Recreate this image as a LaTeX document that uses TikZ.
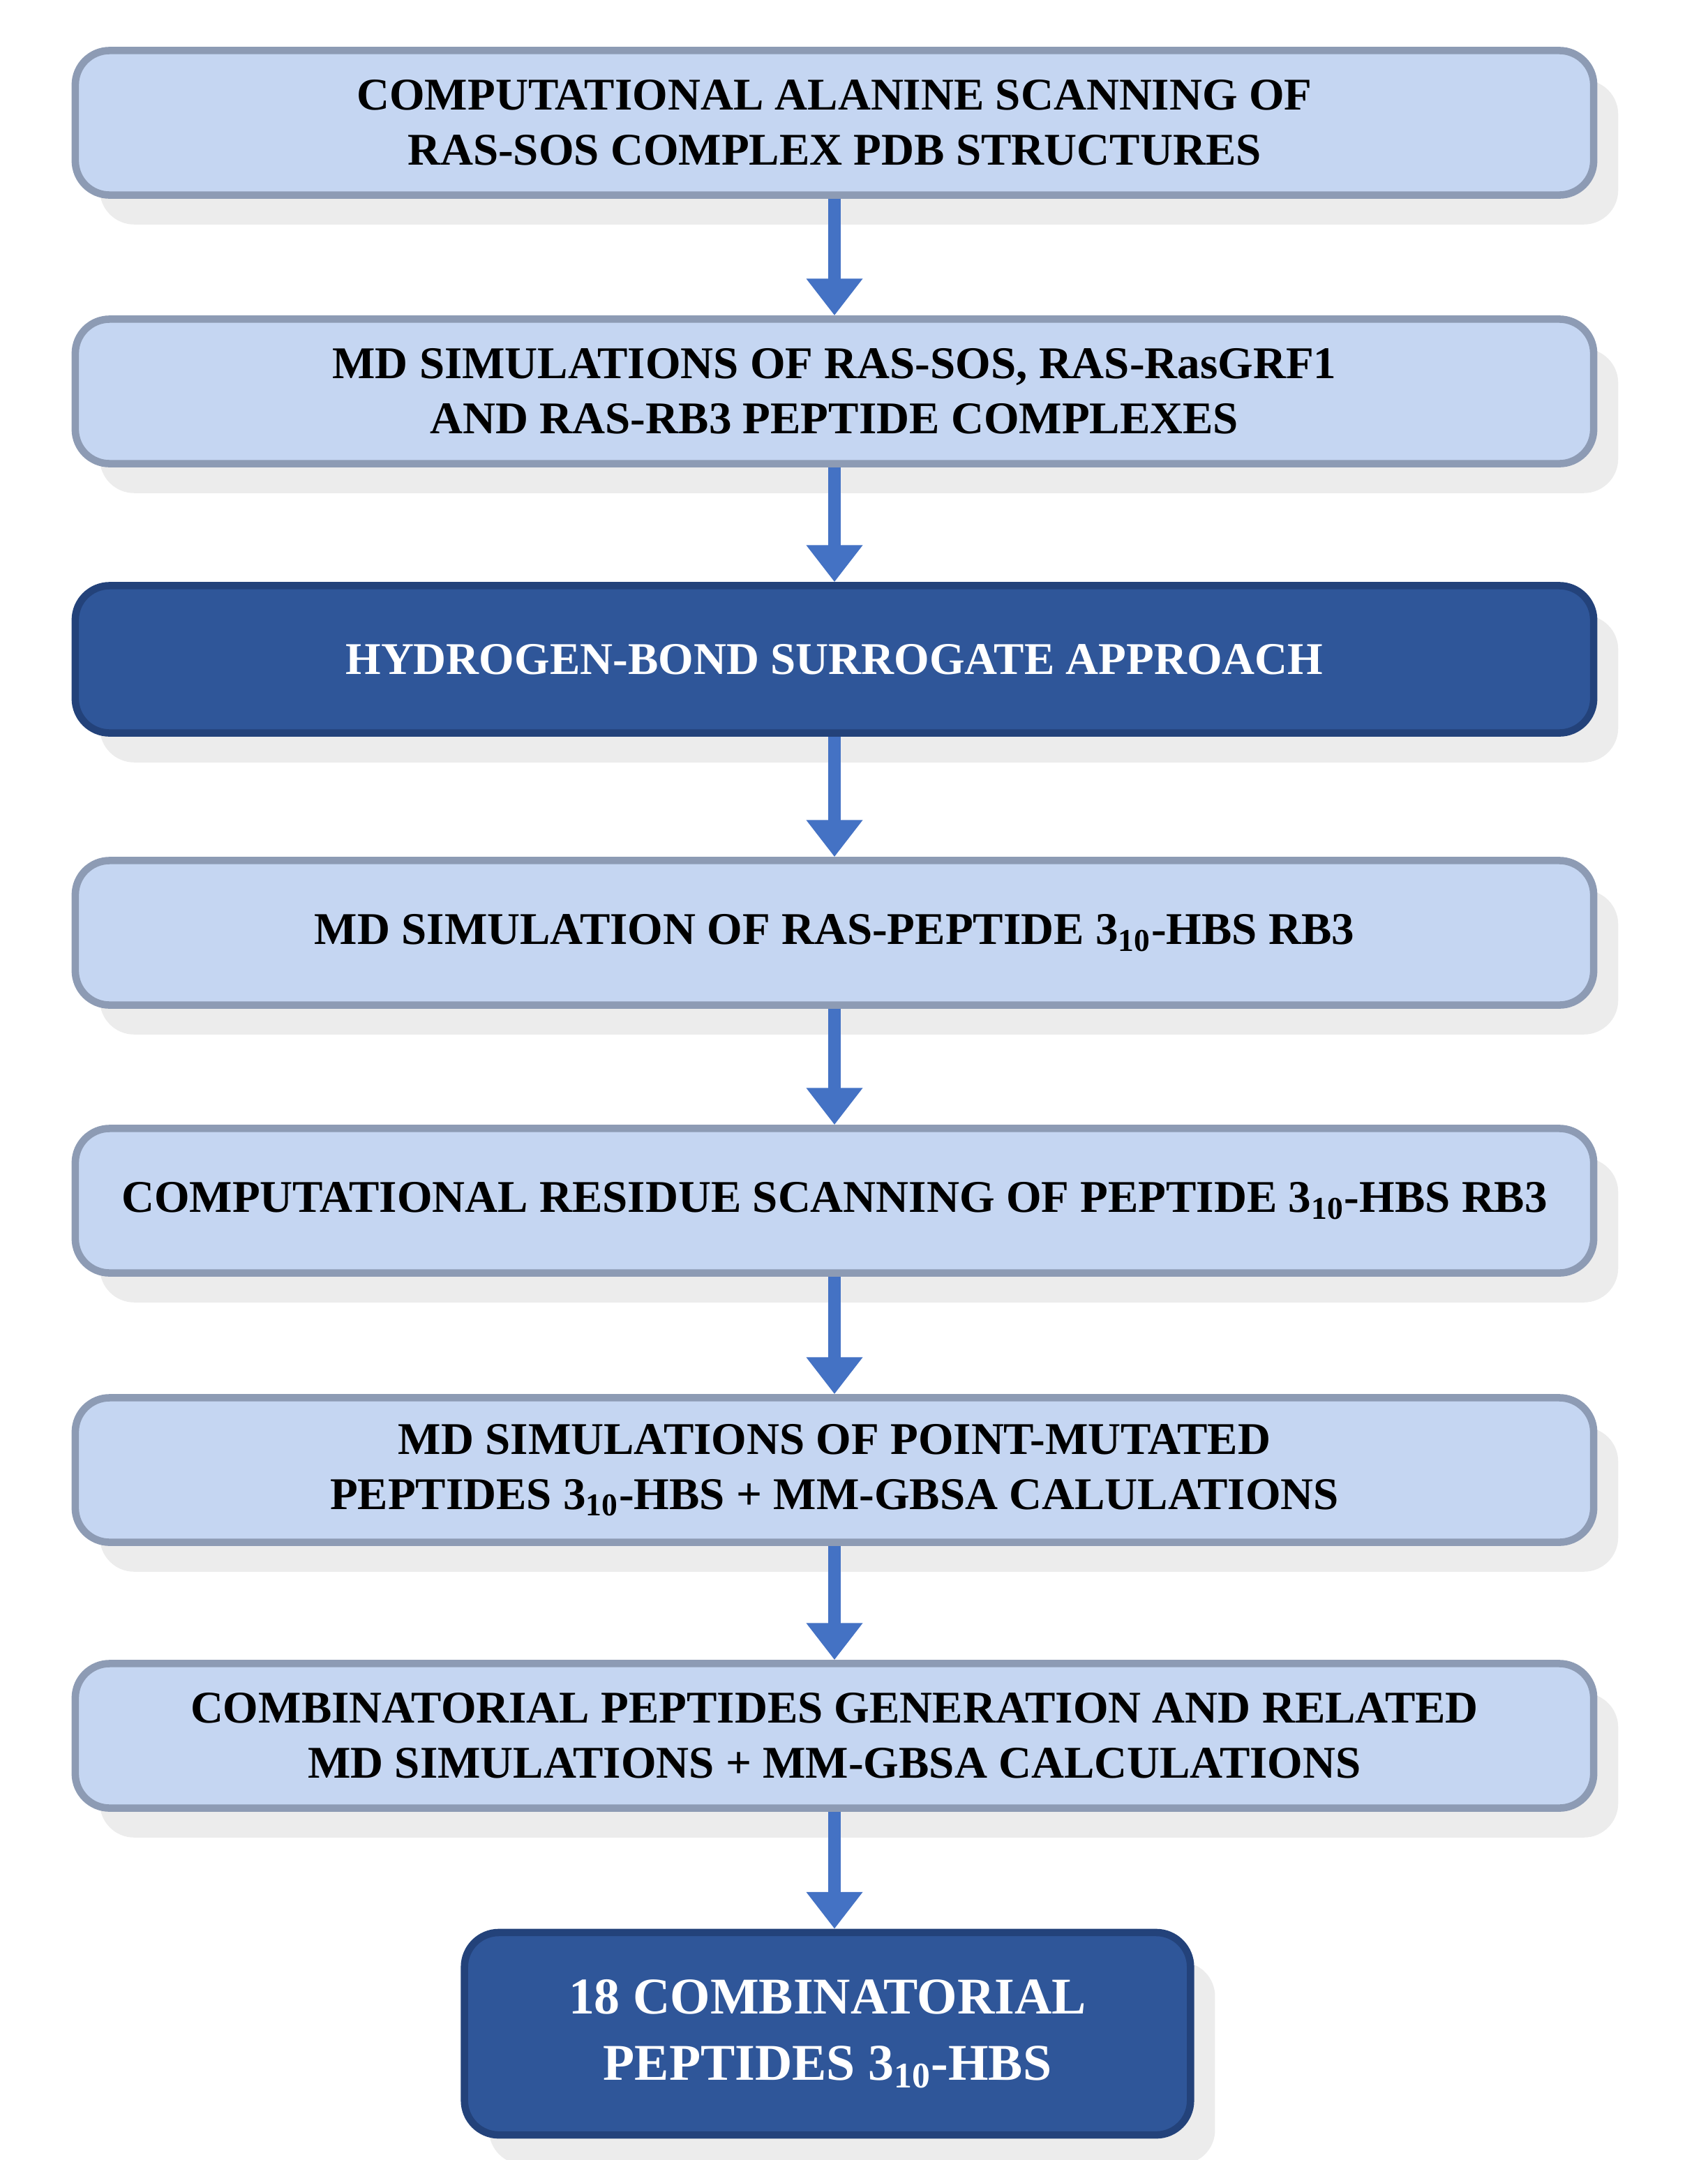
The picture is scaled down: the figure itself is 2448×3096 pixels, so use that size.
\documentclass[tikz,border=0pt]{standalone}
\usepackage{fontspec}
\setmainfont{Liberation Serif}
\usetikzlibrary{shadows,arrows.meta}
\definecolor{lightf}{HTML}{C5D6F2}
\definecolor{lightb}{HTML}{8D9BB4}
\definecolor{darkf}{HTML}{2F5699}
\definecolor{darkb}{HTML}{23427A}
\definecolor{arr}{HTML}{4472C4}
\begin{document}
\begin{tikzpicture}[x=0.01cm,y=-0.01cm,
  box/.style={draw=lightb,line width=3pt,rounded corners=14pt,fill=lightf,
    drop shadow={shadow xshift=10pt,shadow yshift=-12pt,opacity=0.15,fill=black!50},
    minimum width=21.75cm,minimum height=2.07cm,align=center,
    font=\fontsize{18.5}{22.5}\selectfont\bfseries},
  dbox/.style={box,fill=darkf,draw=darkb,text=white},
  ar/.style={draw=arr,line width=5pt,-{Triangle[length=15pt,width=22pt]}}]
\useasboundingbox (0,0) rectangle (2448,3096);
\node[box] (b1) at (1196,176) {COMPUTATIONAL ALANINE SCANNING OF\\RAS-SOS COMPLEX PDB STRUCTURES};
\node[box] (b2) at (1196,561) {MD SIMULATIONS OF RAS-SOS, RAS-RasGRF1\\AND RAS-RB3 PEPTIDE COMPLEXES};
\node[dbox,minimum height=2.11cm] (b3) at (1196,945) {HYDROGEN-BOND SURROGATE APPROACH};
\node[box] (b4) at (1196,1337) {MD SIMULATION OF RAS-PEPTIDE 3$_{\mathbf{10}}$-HBS RB3};
\node[box] (b5) at (1196,1721) {COMPUTATIONAL RESIDUE SCANNING OF PEPTIDE 3$_{\mathbf{10}}$-HBS RB3};
\node[box] (b6) at (1196,2107) {MD SIMULATIONS OF POINT-MUTATED\\PEPTIDES 3$_{\mathbf{10}}$-HBS + MM-GBSA  CALULATIONS};
\node[box] (b7) at (1196,2488) {COMBINATORIAL PEPTIDES GENERATION AND RELATED\\MD SIMULATIONS + MM-GBSA CALCULATIONS};
\node[dbox,minimum width=10.4cm,minimum height=2.9cm,font=\fontsize{21}{27}\selectfont\bfseries] (b8) at (1186,2915) {18 COMBINATORIAL\\PEPTIDES 3$_{\mathbf{10}}$-HBS};
\foreach \a/\b in {b1/b2,b2/b3,b3/b4,b4/b5,b5/b6,b6/b7,b7/b8}
  \draw[ar] (\a.south) -- (\a.south |- \b.north);
\end{tikzpicture}
\end{document}
